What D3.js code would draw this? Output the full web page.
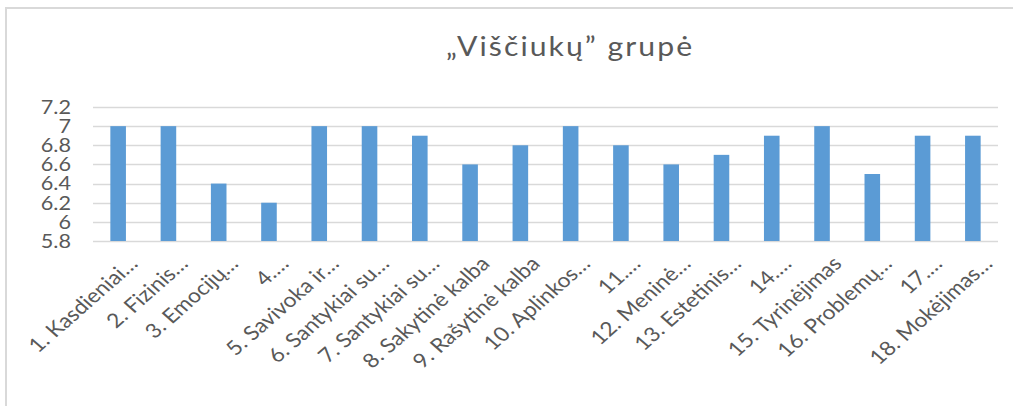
<!DOCTYPE html>
<html>
<head>
<meta charset="utf-8">
<script src="https://cdn.jsdelivr.net/npm/d3@7"></script>
<style>
  html, body { margin: 0; padding: 0; background: #fff; }
  svg { display: block; font-family: Lato, "Open Sans", sans-serif; }
</style>
</head>
<body>
<svg id="chart" width="1013" height="406"></svg>
<script>
// ─── Data ─────────────────────────────────────────────────────────────────────

const TITLE = '„Viščiukų” grupė';

const categories = [
  '1. Kasdieniai…', '2. Fizinis…', '3. Emocijų…', '4.…', '5. Savivoka ir…',
  '6. Santykiai su…', '7. Santykiai su…', '8. Sakytinė kalba', '9. Rašytinė kalba',
  '10. Aplinkos…', '11.…', '12. Meninė…', '13. Estetinis…', '14.…',
  '15. Tyrinėjimas', '16. Problemų…', '17.…', '18. Mokėjimas…'
];

const values = [7, 7, 6.4, 6.2, 7, 7, 6.9, 6.6, 6.8, 7, 6.8, 6.6, 6.7, 6.9, 7, 6.5, 6.9, 6.9];

const yTicks = [5.8, 6, 6.2, 6.4, 6.6, 6.8, 7, 7.2];

// ─── Layout ───────────────────────────────────────────────────────────────────

const svg = d3.select('#chart');
const plot = { left: 93, right: 998, top: 107, bottom: 241 };
const textColor = '#595959';
const STRETCH = 1.14; // the source picture is widened horizontally

// chart frame (only top and left edges show in the crop)
svg.append('path')
  .attr('d', 'M6,406 L6,8 L1013,8')
  .attr('fill', 'none')
  .attr('stroke', '#d9d9d9')
  .attr('stroke-width', 2);

svg.append('text')
  .attr('transform', `translate(570,56) scale(${STRETCH},1)`)
  .attr('text-anchor', 'middle')
  .attr('font-size', 26.5)
  .attr('letter-spacing', 1.8)
  .attr('fill', textColor)
  .text(TITLE);

const x = d3.scaleBand()
  .domain(categories)
  .range([plot.left, plot.right])
  .paddingInner(0.69)
  .paddingOuter(0.345);

const y = d3.scaleLinear()
  .domain([5.8, 7.2])
  .range([plot.bottom, plot.top]);

// gridlines
svg.append('g')
  .selectAll('line')
  .data(yTicks)
  .join('line')
  .attr('x1', plot.left)
  .attr('x2', plot.right)
  .attr('y1', d => Math.round(y(d)) + 0.5)
  .attr('y2', d => Math.round(y(d)) + 0.5)
  .attr('stroke', '#d9d9d9')
  .attr('stroke-width', 1.6);

// y axis labels
const yAxis = svg.append('g')
  .attr('transform', `translate(${plot.left - 22},0)`)
  .call(d3.axisLeft(y).tickValues(yTicks).tickSize(0).tickPadding(0).tickFormat(d => String(d)));
yAxis.select('.domain').remove();
yAxis.selectAll('.tick')
  .attr('transform', d => `translate(0,${y(d)}) scale(${STRETCH},1)`);
yAxis.selectAll('text')
  .attr('font-size', 19)
  .attr('font-family', 'Lato, "Open Sans", sans-serif')
  .attr('fill', textColor)
  .attr('dy', '0.36em');

// bars
svg.append('g')
  .selectAll('rect')
  .data(values)
  .join('rect')
  .attr('x', (d, i) => x(categories[i]))
  .attr('width', x.bandwidth())
  .attr('y', d => y(d))
  .attr('height', d => y(5.8) - y(d))
  .attr('fill', '#5b9bd5');

// x labels, rotated 45° (before the widening)
svg.append('g')
  .selectAll('text')
  .data(categories)
  .join('text')
  .attr('transform', d => `translate(${x(d) + x.bandwidth() / 2 + 21},${plot.bottom + 24}) scale(${STRETCH},1) rotate(-45)`)
  .attr('text-anchor', 'end')
  .attr('font-size', 20)
  .attr('fill', textColor)
  .text(d => d);
</script>
</body>
</html>
